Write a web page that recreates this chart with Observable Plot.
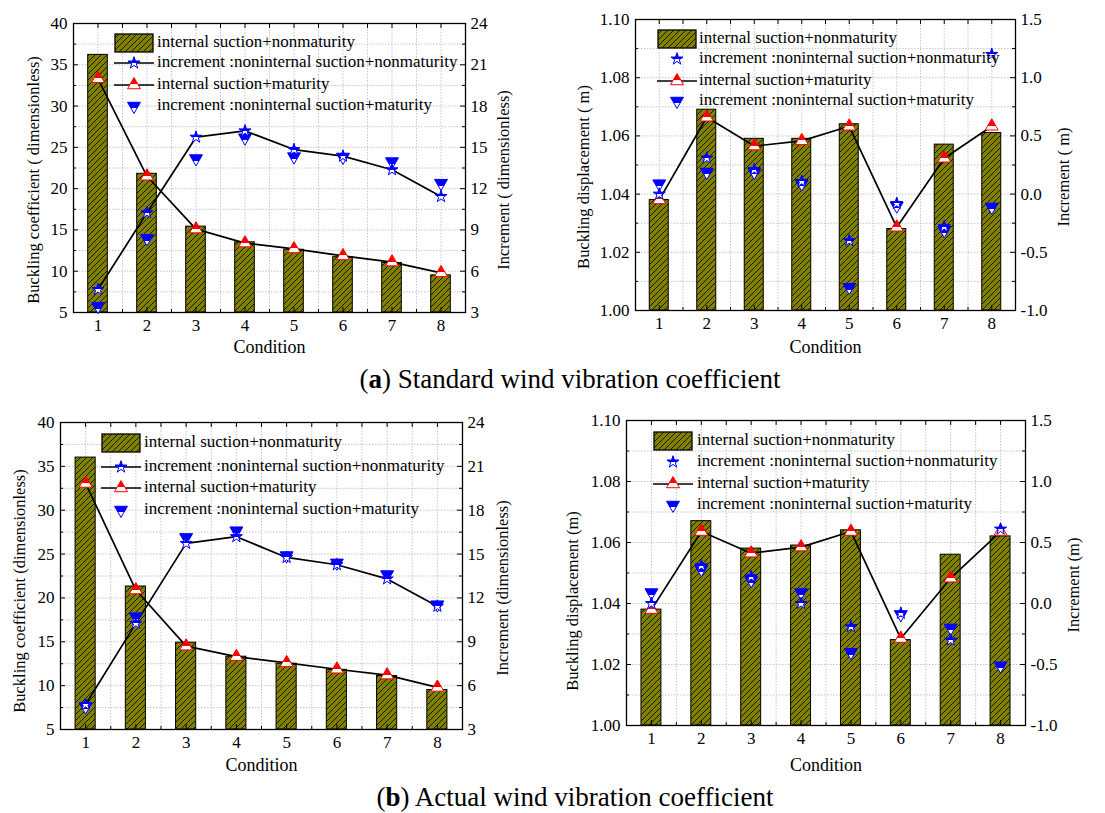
<!DOCTYPE html>
<html>
<head>
<meta charset="utf-8">
<script src="https://cdn.jsdelivr.net/npm/d3@7"></script>
<script src="https://cdn.jsdelivr.net/npm/@observablehq/plot@0.6"></script>
<style>
  html, body { margin: 0; padding: 0; background: #fff; }
  #root { position: relative; width: 1105px; height: 813px; overflow: hidden; font-family: 'Liberation Serif', serif; color: #000; }
  .panel { position: absolute; }
  .panel svg.layer { position: absolute; left: 0; top: 0; font-family: 'Liberation Serif', serif; }
  .lrow { position: absolute; height: 20px; line-height: 20px; font-size: 17px; white-space: nowrap; font-family: 'Liberation Serif', serif; }
  .lsw { position: absolute; }
  .caption { position: absolute; font-size: 27px; white-space: nowrap; transform: translateX(-50%); font-family: 'Liberation Serif', serif; }
</style>
</head>
<body>
<svg width="0" height="0" style="position:absolute">
  <defs>
    <pattern id="hatch" patternUnits="userSpaceOnUse" width="6" height="6">
      <rect width="6" height="6" fill="#808000"></rect>
      <path d="M-1,1 L1,-1 M0,6 L6,0 M5,7 L7,5" stroke="#000" stroke-width="0.8"></path>
    </pattern>
    <linearGradient id="halfRed" x1="0" y1="0" x2="0" y2="1">
      <stop offset="0" stop-color="#ff0000"></stop>
      <stop offset="0.62" stop-color="#ff0000"></stop>
      <stop offset="0.62" stop-color="#ffffff"></stop>
      <stop offset="1" stop-color="#ffffff"></stop>
    </linearGradient>
    <linearGradient id="halfBlue" x1="0" y1="0" x2="0" y2="1">
      <stop offset="0" stop-color="#0000ff"></stop>
      <stop offset="0.55" stop-color="#0000ff"></stop>
      <stop offset="0.55" stop-color="#ffffff"></stop>
      <stop offset="1" stop-color="#ffffff"></stop>
    </linearGradient>
  </defs>
</svg>
<div id="root"></div>
<script>
// ---------- data ----------
const conditions = [1, 2, 3, 4, 5, 6, 7, 8];

// (a) Standard wind vibration coefficient — buckling coefficient (left axis) and increments (right axis)
const aCoefNonmat    = [36.2, 21.8, 15.4, 13.5, 12.6, 11.7, 11.0, 9.5];
const aCoefMat       = [33.3, 21.5, 15.1, 13.4, 12.7, 11.85, 11.1, 9.8];
const aCoefIncNonmat = [4.67, 10.25, 15.74, 16.2, 14.84, 14.36, 13.37, 11.43];
const aCoefIncMat    = [3.46, 8.39, 14.19, 15.7, 14.33, 14.3, 13.97, 12.4];
// (a) buckling displacement (left) and increments (right)
const aDispNonmat    = [1.038, 1.069, 1.059, 1.059, 1.064, 1.028, 1.057, 1.061];
const aDispMat       = [1.038, 1.0664, 1.0565, 1.0583, 1.0633, 1.0286, 1.0523, 1.0633];
const aDispIncNonmat = [0.0, 0.31, 0.21, 0.11, -0.40, -0.08, -0.28, 1.2];
const aDispIncMat    = [0.09, 0.19, 0.19, 0.09, -0.80, -0.10, -0.31, -0.11];

// (b) Actual wind vibration coefficient
const bCoefNonmat    = [36.0, 21.3, 14.9, 13.3, 12.5, 11.8, 11.1, 9.5];
const bCoefMat       = [33.05, 20.9, 14.5, 13.3, 12.6, 11.87, 11.2, 9.8];
const bCoefIncNonmat = [4.71, 10.26, 15.73, 16.19, 14.77, 14.27, 13.3, 11.43];
const bCoefIncMat    = [4.57, 10.72, 16.14, 16.6, 14.9, 14.4, 13.6, 11.54];
const bDispNonmat    = [1.038, 1.067, 1.058, 1.059, 1.064, 1.028, 1.056, 1.062];
const bDispMat       = [1.038, 1.0636, 1.0565, 1.0585, 1.0636, 1.0285, 1.0483, 1.0636];
const bDispIncNonmat = [0.0, 0.31, 0.22, 0.0, -0.19, -0.08, -0.30, 0.61];
const bDispIncMat    = [0.09, 0.28, 0.19, 0.09, -0.40, -0.09, -0.20, -0.51];

// tick labels
const coefTicks    = [5, 10, 15, 20, 25, 30, 35, 40];
const coefIncTicks = [3, 6, 9, 12, 15, 18, 21, 24];
const dispTicks    = [1.00, 1.02, 1.04, 1.06, 1.08, 1.10];
const dispIncTicks = [-1.0, -0.5, 0.0, 0.5, 1.0, 1.5];

const legendLabels = [
  "internal suction+nonmaturity",
  "increment :noninternal suction+nonmaturity",
  "internal suction+maturity",
  "increment :noninternal suction+maturity"
];
const captionA = ["a", ") Standard wind vibration coefficient"];
const captionB = ["b", ") Actual wind vibration coefficient"];

// ---------- helpers ----------
const sqrt3 = Math.sqrt(3);
const triangleDown = {
  draw(context, size) {
    const y = -Math.sqrt(size / (sqrt3 * 3));
    context.moveTo(0, -y * 2);
    context.lineTo(-sqrt3 * y, y);
    context.lineTo(sqrt3 * y, y);
    context.closePath();
  }
};
const R_TRI = 4.8, R_STAR = 3.8;
const FONT = "'Liberation Serif', serif";
const gridStyle = {stroke: "#b8b8b8", strokeOpacity: 1, strokeDasharray: "1.5,1.5", strokeWidth: 0.8};

function mids(t) {
  const out = [];
  for (let i = 0; i < t.length - 1; i++) out.push((t[i] + t[i + 1]) / 2);
  return out;
}

const root = document.getElementById("root");

function makePanel(cfg) {
  const {left, top, width, height, mL, mR, mT, mB, yTicks, rTicks, yFmt, rFmt,
         bars, mat, incNonmat, incMat, starLine, labelL, labelR, lab} = cfg;
  const fw = width - mL - mR, fh = height - mT - mB;
  const xDomain = [0.5, 8.5];
  const xMinor = mids([0, ...conditions, 9]).filter(v => v > 0.5 && v < 8.5);
  const xAll = [...conditions, ...xMinor];
  const yMinor = mids(yTicks), rMinor = mids(rTicks);
  const common = {
    width, height, marginLeft: mL, marginRight: mR, marginTop: mT, marginBottom: mB,
    style: {fontFamily: FONT, fontSize: "17px", background: "transparent", color: "#000", overflow: "visible"}
  };
  const txt = {fontFamily: FONT, fill: "#000"};
  const div = document.createElement("div");
  div.className = "panel";
  div.style.left = left + "px"; div.style.top = top + "px";
  div.style.width = width + "px"; div.style.height = height + "px";

  const A = Plot.plot({
    ...common,
    x: {domain: xDomain},
    y: {domain: [yTicks[0], yTicks[yTicks.length - 1]]},
    marks: [
      Plot.gridX(xAll, gridStyle),
      Plot.gridY([...yTicks, ...yMinor], gridStyle),
      Plot.rectY(conditions, {x1: c => c - 0.2, x2: c => c + 0.2, y1: yTicks[0], y2: (c, i) => bars[i],
        fill: "url(#hatch)", stroke: "#000", strokeWidth: 1}),
      Plot.line(conditions, {x: c => c, y: (c, i) => mat[i], stroke: "#000", strokeWidth: 1.7}),
      Plot.dot(conditions, {x: c => c, y: (c, i) => mat[i], symbol: "triangle", r: R_TRI,
        fill: "url(#halfRed)", stroke: "#ff0000", strokeWidth: 1}),
      // inward ticks: left & bottom & top
      Plot.tickY(yTicks, {y: d => d, insetRight: fw - 5, stroke: "#000", strokeWidth: 1}),
      Plot.tickY(yMinor, {y: d => d, insetRight: fw - 3, stroke: "#000", strokeWidth: 1}),
      Plot.tickX(conditions, {x: d => d, insetTop: fh - 5, stroke: "#000", strokeWidth: 1}),
      Plot.tickX(xMinor, {x: d => d, insetTop: fh - 3, stroke: "#000", strokeWidth: 1}),
      Plot.tickX(conditions, {x: d => d, insetBottom: fh - 5, stroke: "#000", strokeWidth: 1}),
      Plot.tickX(xMinor, {x: d => d, insetBottom: fh - 5, stroke: "#000", strokeWidth: 1}),
      Plot.frame({stroke: "#000", strokeWidth: 1.3}),
      Plot.axisX(conditions, {tickSize: 0, tickPadding: 6, tickFormat: d => String(d), fontSize: 17, ...txt}),
      Plot.axisY(yTicks, {tickSize: 0, tickPadding: 6, tickFormat: yFmt, fontSize: 17, label: null, ...txt}),
      Plot.text([labelL], {frameAnchor: "left", textAnchor: "middle", lineAnchor: "middle", rotate: -90,
        dx: lab.lx, dy: lab.ly, fontSize: 16.5, ...txt}),
      Plot.text(["Condition"], {frameAnchor: "bottom", textAnchor: "middle", lineAnchor: "middle",
        dy: lab.cy, fontSize: 18, ...txt})
    ]
  });
  A.classList.add("layer");

  const bMarks = [];
  if (starLine) bMarks.push(Plot.line(conditions, {x: c => c, y: (c, i) => incNonmat[i], stroke: "#000", strokeWidth: 1.7}));
  bMarks.push(
    Plot.dot(conditions, {x: c => c, y: (c, i) => incMat[i], symbol: triangleDown, r: R_TRI,
      fill: "url(#halfBlue)", stroke: "#0000ff", strokeWidth: 1}),
    Plot.dot(conditions, {x: c => c, y: (c, i) => incNonmat[i], symbol: "star", r: R_STAR,
      fill: "url(#halfBlue)", stroke: "#0000ff", strokeWidth: 1}),
    Plot.tickY(rTicks, {y: d => d, insetLeft: fw - 5, stroke: "#000", strokeWidth: 1}),
    Plot.tickY(rMinor, {y: d => d, insetLeft: fw - 3, stroke: "#000", strokeWidth: 1}),
    Plot.axisY(rTicks, {anchor: "right", tickSize: 0, tickPadding: 5, tickFormat: rFmt, fontSize: 17, label: null, ...txt}),
    Plot.text([labelR], {frameAnchor: "right", textAnchor: "middle", lineAnchor: "middle", rotate: -90,
      dx: lab.rx, dy: lab.ry, fontSize: 16.5, ...txt})
  );
  const B = Plot.plot({
    ...common,
    x: {domain: xDomain, axis: null},
    y: {domain: [rTicks[0], rTicks[rTicks.length - 1]]},
    marks: bMarks
  });
  B.classList.add("layer");
  div.appendChild(A);
  div.appendChild(B);
  root.appendChild(div);
}

function symPath(type, r) {
  return d3.symbol(type, r * r * Math.PI)();
}

function makeLegend(cfg) {
  const {swX, textX, rows, starLine} = cfg;
  const cx = 20;
  const sw = [
    `<rect x="1" y="1" width="38" height="18" fill="url(#hatch)" stroke="#000" stroke-width="1.3"></rect>`,
    (starLine ? `<line x1="0" x2="40" y1="10" y2="10" stroke="#000" stroke-width="1.7"></line>` : "") +
      `<path transform="translate(${cx},10)" d="${symPath(d3.symbolStar, R_STAR)}" fill="url(#halfBlue)" stroke="#0000ff"></path>`,
    `<line x1="0" x2="40" y1="10" y2="10" stroke="#000" stroke-width="1.7"></line>` +
      `<path transform="translate(${cx},10)" d="${symPath(d3.symbolTriangle, R_TRI)}" fill="url(#halfRed)" stroke="#ff0000"></path>`,
    `<path transform="translate(${cx},10)" d="${symPath(triangleDown, R_TRI)}" fill="url(#halfBlue)" stroke="#0000ff"></path>`
  ];
  legendLabels.forEach((label, i) => {
    const s = document.createElement("div");
    s.className = "lsw";
    s.style.left = swX + "px"; s.style.top = (rows[i] - 10) + "px";
    s.innerHTML = `<svg width="40" height="20" style="overflow:visible">${sw[i]}</svg>`;
    root.appendChild(s);
    const t = document.createElement("div");
    t.className = "lrow";
    t.style.left = textX + "px"; t.style.top = (rows[i] - 11) + "px";
    t.textContent = label;
    root.appendChild(t);
  });
}

const f0 = d => String(d);
const f2 = d => d.toFixed(2);
const f1 = d => d.toFixed(1);

makePanel({left: 0, top: 0, width: 520, height: 360, mL: 73, mR: 55, mT: 23, mB: 48,
  yTicks: coefTicks, rTicks: coefIncTicks, yFmt: f0, rFmt: f0,
  bars: aCoefNonmat, mat: aCoefMat, incNonmat: aCoefIncNonmat, incMat: aCoefIncMat, starLine: true,
  labelL: "Buckling coefficient ( dimensionless)", labelR: "Increment ( dimensionless)",
  lab: {lx: -40, ly: 12, rx: 38, ry: 12, cy: 35}});
makePanel({left: 560, top: 0, width: 545, height: 360, mL: 75, mR: 90, mT: 19, mB: 50,
  yTicks: dispTicks, rTicks: dispIncTicks, yFmt: f2, rFmt: f1,
  bars: aDispNonmat, mat: aDispMat, incNonmat: aDispIncNonmat, incMat: aDispIncMat, starLine: false,
  labelL: "Buckling displacement ( m)", labelR: "Increment ( m)",
  lab: {lx: -52, ly: 12, rx: 48, ry: 12, cy: 37}});
makePanel({left: 0, top: 400, width: 540, height: 380, mL: 60, mR: 78, mT: 22, mB: 51,
  yTicks: coefTicks, rTicks: coefIncTicks, yFmt: f0, rFmt: f0,
  bars: bCoefNonmat, mat: bCoefMat, incNonmat: bCoefIncNonmat, incMat: bCoefIncMat, starLine: true,
  labelL: "Buckling coefficient (dimensionless)", labelR: "Increment (dimensionless)",
  lab: {lx: -41, ly: 15, rx: 40, ry: 12, cy: 36}});
makePanel({left: 560, top: 400, width: 545, height: 380, mL: 66, mR: 80, mT: 20, mB: 55,
  yTicks: dispTicks, rTicks: dispIncTicks, yFmt: f2, rFmt: f1,
  bars: bDispNonmat, mat: bDispMat, incNonmat: bDispIncNonmat, incMat: bDispIncMat, starLine: false,
  labelL: "Buckling displacement (m)", labelR: "Increment (m)",
  lab: {lx: -54, ly: 28, rx: 48, ry: 12, cy: 40}});

makeLegend({swX: 114, textX: 157, rows: [43, 63, 85, 106], starLine: true});
makeLegend({swX: 657, textX: 699, rows: [39, 59, 81, 101], starLine: false});
makeLegend({swX: 101, textX: 144, rows: [443, 467, 488, 510], starLine: true});
makeLegend({swX: 653, textX: 697, rows: [441, 462, 484, 505], starLine: false});

function caption(parts, cx, cy) {
  const c = document.createElement("div");
  c.className = "caption";
  c.style.left = cx + "px"; c.style.top = (cy - 16) + "px";
  c.innerHTML = `(<b>${parts[0]}</b>${parts[1]}`;
  root.appendChild(c);
}
caption(captionA, 570, 380);
caption(captionB, 575, 798);
</script>
</body>
</html>
